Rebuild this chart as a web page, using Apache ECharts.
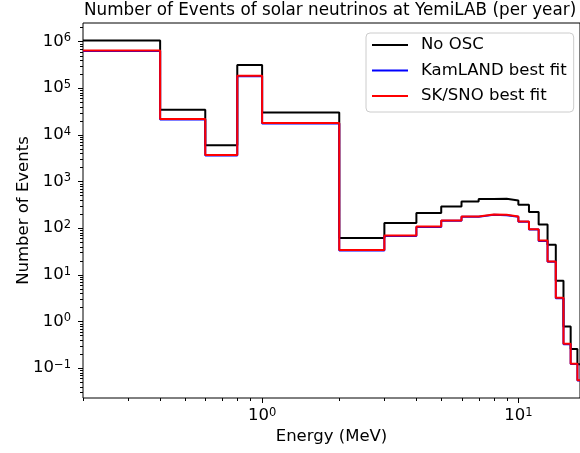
<!DOCTYPE html>
<html>
<head>
<meta charset="utf-8">
<script src="https://cdn.jsdelivr.net/npm/echarts@6/dist/echarts.min.js"></script>
<style>
  html, body { margin: 0; padding: 0; background: #ffffff; }
  #chart { width: 580px; height: 453px; }
</style>
</head>
<body>
<div id="chart"></div>
<script>
// Energy bin edges (MeV) and yearly event counts per bin
const binEdges = [0.2, 0.4, 0.6, 0.8, 1.0, 2, 3, 4, 5, 6, 7, 8, 9, 10, 11, 12, 13, 14, 15, 16, 17, 18];
const noOscEvents = [1.05e6, 3.44e4, 6.0e3, 3.12e5, 3.0e4, 61, 128, 210, 291, 372, 419, 426, 391, 316, 221, 120, 44, 7.4, 0.78, 0.255, 0.12];
const kamlandEvents = [6.25e5, 2.12e4, 3.58e3, 1.8e5, 1.74e4, 33.0, 68, 106, 143, 175, 192, 189, 175, 136, 93, 53, 19.0, 3.15, 0.325, 0.122, 0.054];
const sksnoEvents = [6.4e5, 2.17e4, 3.67e3, 1.84e5, 1.78e4, 33.8, 69.5, 108, 146, 178, 196, 193, 178, 139, 95, 54, 19.3, 3.2, 0.33, 0.124, 0.055];

// Axis ranges and tick positions
const xRange = [0.2, 17.4];
const yRange = [0.0228, 2.49e6];
const xMajorTicks = [1, 10];
const xMinorTicks = [0.2, 0.3, 0.4, 0.5, 0.6, 0.7, 0.8, 0.9, 2, 3, 4, 5, 6, 7, 8, 9];
const yMajorTicks = [0.1, 1, 10, 100, 1e3, 1e4, 1e5, 1e6];
const yMinorMantissas = [2, 3, 4, 5, 6, 7, 8, 9];
const yMinorDecades = [0.01, 0.1, 1, 10, 100, 1e3, 1e4, 1e5, 1e6];

const FONT = 'DejaVu Sans';
const FS = 16.5;

// Histogram outline: each bin starts a horizontal run, closing point at the last edge
function stepData(edges, values) {
  const pts = values.map((v, i) => [edges[i], v]);
  pts.push([edges[edges.length - 1], values[values.length - 1]]);
  return pts;
}

function powLabel(v) {
  const e = Math.round(Math.log10(v));
  return '10{s|' + (e < 0 ? '\u2212' + (-e) : e) + '}';
}

const labelRich = {
  s: { fontSize: 11.5, fontFamily: FONT, color: '#000', verticalAlign: 'top', lineHeight: 12 }
};

const chart = echarts.init(document.getElementById('chart'), null, { renderer: 'canvas' });

const option = {
  backgroundColor: '#ffffff',
  animation: false,
  title: {
    text: 'Number of Events of solar neutrinos at YemiLAB (per year)',
    left: 84,
    top: 2,
    padding: 0,
    textStyle: { fontFamily: FONT, fontSize: 16.8, fontWeight: 'normal', color: '#000' }
  },
  legend: {
    orient: 'vertical',
    left: 366,
    top: 33,
    padding: [3, 7, 7, 6],
    icon: 'rect',
    itemWidth: 36,
    itemHeight: 2,
    itemGap: 7.5,
    backgroundColor: 'rgba(255,255,255,0.8)',
    borderColor: '#cccccc',
    borderWidth: 1,
    borderRadius: 4,
    textStyle: { fontFamily: FONT, fontSize: FS, color: '#000', lineHeight: 18, padding: [0, 0, 0, 8] },
    data: ['No OSC', 'KamLAND best fit', 'SK/SNO best fit']
  },
  grid: {
    left: 83,
    top: 23,
    right: 0,
    bottom: 55,
    outerBoundsMode: 'none',
    show: true,
    borderColor: '#000',
    borderWidth: 1,
    backgroundColor: 'transparent'
  },
  xAxis: {
    type: 'log',
    logBase: 10,
    min: xRange[0],
    max: xRange[1],
    name: 'Energy (MeV)',
    nameLocation: 'middle',
    nameGap: 30,
    nameMoveOverlap: false,
    nameTextStyle: { fontFamily: FONT, fontSize: FS, color: '#000' },
    axisLine: { show: false },
    axisTick: { show: false },
    splitLine: { show: false },
    axisLabel: {
      margin: 9,
      fontFamily: FONT,
      fontSize: FS,
      color: '#000',
      lineHeight: 18,
      showMinLabel: false,
      showMaxLabel: false,
      formatter: powLabel,
      rich: labelRich
    }
  },
  yAxis: {
    type: 'log',
    logBase: 10,
    min: yRange[0],
    max: yRange[1],
    name: 'Number of Events',
    nameLocation: 'middle',
    nameGap: 51,
    nameMoveOverlap: false,
    nameTextStyle: { fontFamily: FONT, fontSize: FS, color: '#000' },
    axisLine: { show: false },
    axisTick: { show: false },
    splitLine: { show: false },
    axisLabel: {
      margin: 12,
      fontFamily: FONT,
      fontSize: FS,
      color: '#000',
      lineHeight: 18,
      showMinLabel: false,
      showMaxLabel: false,
      formatter: powLabel,
      rich: labelRich
    }
  },
  series: [
    {
      name: 'No OSC', type: 'line', step: 'end', symbol: 'none', clip: true,
      lineStyle: { color: '#000000', width: 2 }, itemStyle: { color: '#000000' },
      data: stepData(binEdges, noOscEvents), z: 2
    },
    {
      name: 'KamLAND best fit', type: 'line', step: 'end', symbol: 'none', clip: true,
      lineStyle: { color: '#0000ff', width: 2 }, itemStyle: { color: '#0000ff' },
      data: stepData(binEdges, kamlandEvents), z: 3
    },
    {
      name: 'SK/SNO best fit', type: 'line', step: 'end', symbol: 'none', clip: true,
      lineStyle: { color: '#ff0000', width: 2 }, itemStyle: { color: '#ff0000' },
      data: stepData(binEdges, sksnoEvents), z: 4
    }
  ]
};

chart.setOption(option);

// Outward major/minor ticks on the bottom and left spines, placed through the axis scales
function addTicks() {
  const els = [];
  const xpix = v => chart.convertToPixel({ xAxisIndex: 0 }, v);
  const ypix = v => chart.convertToPixel({ yAxisIndex: 0 }, v);
  const y0 = ypix(yRange[0]);
  const x0 = xpix(xRange[0]);
  const tick = (x1, y1, x2, y2) => els.push({
    type: 'line', silent: true, z: 10,
    shape: { x1, y1, x2, y2 },
    style: { stroke: '#000', lineWidth: 1 }
  });
  xMajorTicks.forEach(v => { const x = Math.round(xpix(v)) + 0.5; tick(x, y0, x, y0 + 5); });
  xMinorTicks.forEach(v => { const x = Math.round(xpix(v)) + 0.5; tick(x, y0, x, y0 + 3); });
  yMajorTicks.forEach(v => { const y = Math.round(ypix(v)) + 0.5; tick(x0, y, x0 - 5, y); });
  yMinorDecades.forEach(d => yMinorMantissas.forEach(m => {
    const v = m * d;
    if (v > yRange[0] && v < yRange[1]) { const y = Math.round(ypix(v)) + 0.5; tick(x0, y, x0 - 3, y); }
  }));
  chart.setOption({ graphic: els });
}
addTicks();
</script>
</body>
</html>
